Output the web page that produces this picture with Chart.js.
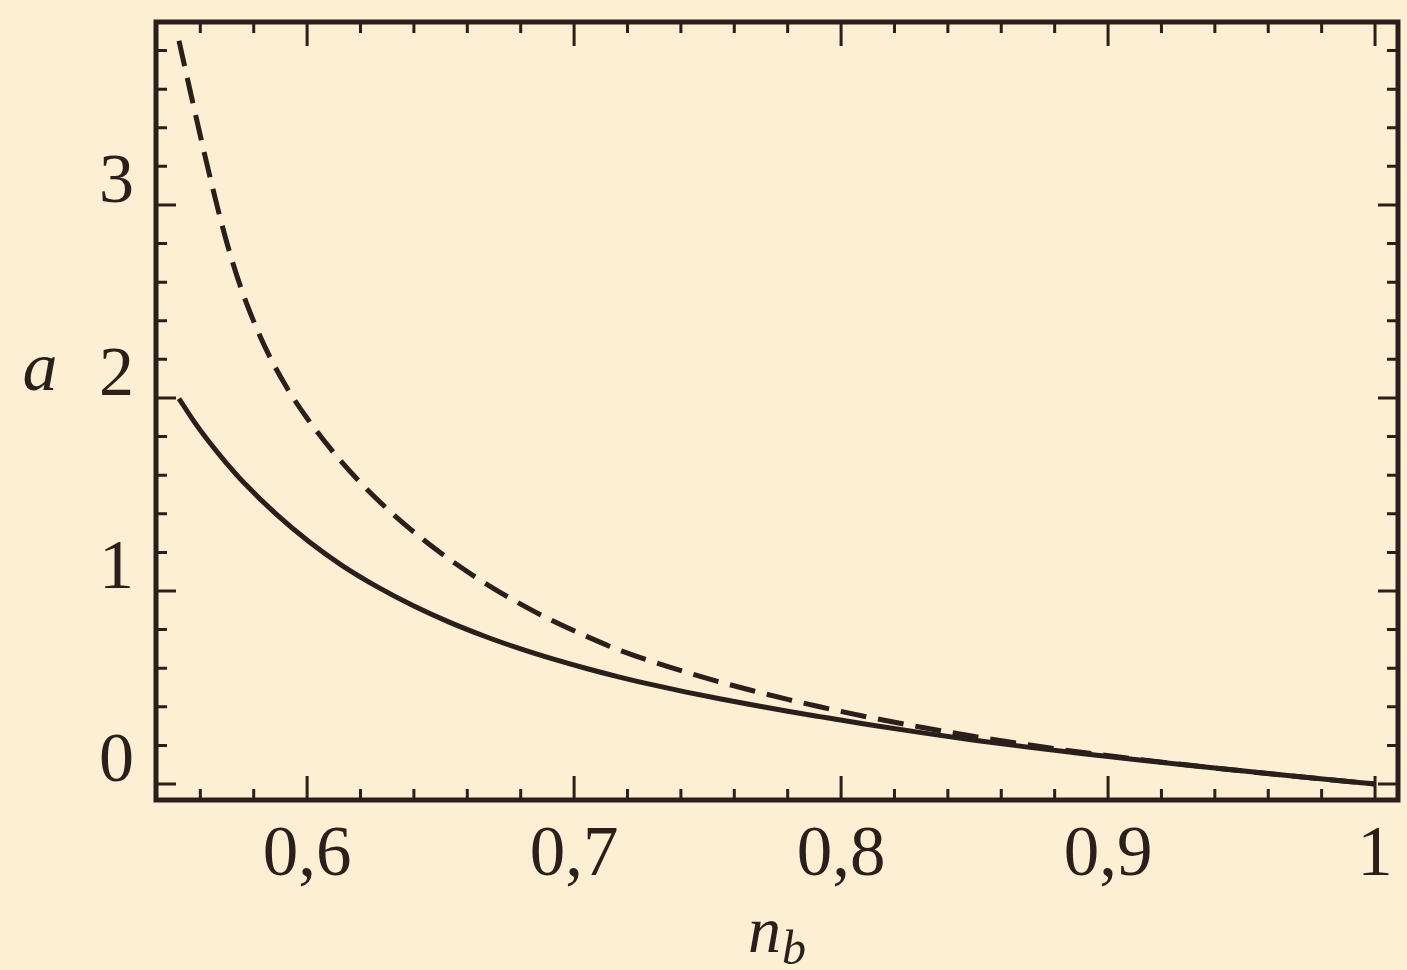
<!DOCTYPE html>
<html>
<head>
<meta charset="utf-8">
<script src="https://cdn.jsdelivr.net/npm/chart.js@4.4.1/dist/chart.umd.min.js"></script>
<style>
  html, body { margin: 0; padding: 0; background: #fcefd3; }
  #wrap { width: 1407px; height: 970px; position: relative; }
</style>
</head>
<body>
<div id="wrap"><canvas id="c"></canvas></div>
<script>
// ---- data ----
const solidN = [0.552, 0.558, 0.564, 0.570, 0.576, 0.588, 0.601, 0.613, 0.626, 0.640, 0.653, 0.667, 0.680, 0.692, 0.705, 0.717, 0.730, 0.742, 0.755, 0.767, 0.780, 0.792, 0.810, 0.830, 0.850, 0.870, 0.890, 0.910, 0.930, 0.950, 0.970, 1.000];
const solidA = [1.997, 1.871, 1.760, 1.659, 1.566, 1.403, 1.252, 1.133, 1.024, 0.922, 0.840, 0.763, 0.700, 0.648, 0.597, 0.554, 0.512, 0.476, 0.440, 0.409, 0.377, 0.349, 0.308, 0.266, 0.227, 0.191, 0.158, 0.127, 0.097, 0.068, 0.040, 0.0];

const dashedN = [0.552, 0.556, 0.560, 0.564, 0.568, 0.572, 0.577, 0.584, 0.592, 0.600, 0.613, 0.626, 0.639, 0.652, 0.665, 0.678, 0.691, 0.704, 0.717, 0.730, 0.742, 0.755, 0.767, 0.780, 0.792, 0.810, 0.830, 0.850, 0.870, 0.890, 0.910, 0.930, 0.950, 0.970, 1.000];
const dashedA = [3.851, 3.603, 3.359, 3.123, 2.903, 2.707, 2.502, 2.271, 2.063, 1.895, 1.667, 1.478, 1.317, 1.177, 1.055, 0.947, 0.852, 0.769, 0.693, 0.631, 0.579, 0.527, 0.483, 0.438, 0.400, 0.347, 0.294, 0.246, 0.203, 0.164, 0.130, 0.098, 0.068, 0.040, 0.0];

const xTickValues = [0.6, 0.7, 0.8, 0.9, 1.0];
const xTickLabels = ['0,6', '0,7', '0,8', '0,9', '1'];
const yTickValues = [0, 1, 2, 3];
const yTickLabels = ['0', '1', '2', '3'];
const xMinorStep = 0.02;
const yMinorStep = 0.2;
const xTitle = 'n';
const xTitleSub = 'b';
const yTitle = 'a';

// ---- style ----
const INK = '#2a1f1a';
const BG = '#fcefd3';
const SERIF = "'Liberation Serif', 'DejaVu Serif', serif";

const toXY = (xs, ys) => xs.map((x, i) => ({ x: x, y: ys[i] }));

const framePlugin = {
  id: 'frame',
  beforeDraw(chart) {
    const ctx = chart.ctx;
    ctx.save();
    ctx.fillStyle = BG;
    ctx.fillRect(0, 0, chart.width, chart.height);
    ctx.restore();
  },
  afterDraw(chart) {
    const ctx = chart.ctx;
    const a = chart.chartArea;
    const xs = chart.scales.x, ys = chart.scales.y;
    ctx.save();
    ctx.strokeStyle = INK;
    ctx.lineCap = 'butt';
    const majorLen = 24, minorLen = 11;
    ctx.lineWidth = 3;
    const drawX = (v, len) => {
      const p = xs.getPixelForValue(v);
      if (p < a.left + 2 || p > a.right - 2) return;
      ctx.beginPath();
      ctx.moveTo(p, a.bottom); ctx.lineTo(p, a.bottom - len);
      ctx.moveTo(p, a.top); ctx.lineTo(p, a.top + len);
      ctx.stroke();
    };
    const drawY = (v, len) => {
      const p = ys.getPixelForValue(v);
      if (p < a.top + 2 || p > a.bottom - 2) return;
      ctx.beginPath();
      ctx.moveTo(a.left, p); ctx.lineTo(a.left + len, p);
      ctx.moveTo(a.right, p); ctx.lineTo(a.right - len, p);
      ctx.stroke();
    };
    const eps = 1e-6;
    for (let k = Math.ceil(xs.min / xMinorStep - eps); k * xMinorStep <= xs.max + eps; k++) {
      const v = +(k * xMinorStep).toFixed(4);
      const isMajor = xTickValues.some(t => Math.abs(t - v) < 1e-6);
      drawX(v, isMajor ? majorLen : minorLen);
    }
    for (let k = Math.ceil(ys.min / yMinorStep - eps); k * yMinorStep <= ys.max + eps; k++) {
      const v = +(k * yMinorStep).toFixed(4);
      const isMajor = yTickValues.some(t => Math.abs(t - v) < 1e-6);
      drawY(v, isMajor ? majorLen - 4 : minorLen);
    }
    ctx.lineWidth = 5;
    ctx.strokeRect(a.left, a.top, a.right - a.left, a.bottom - a.top);
    ctx.fillStyle = INK;
    ctx.textBaseline = 'alphabetic';
    ctx.textAlign = 'center';
    ctx.font = 'italic 70px ' + SERIF;
    ctx.fillText(yTitle, 40, 390);
    ctx.textAlign = 'left';
    ctx.font = 'italic 66px ' + SERIF;
    const nx = 748;
    ctx.fillText(xTitle, nx, 952);
    const w = ctx.measureText(xTitle).width;
    ctx.font = 'italic 48px ' + SERIF;
    ctx.fillText(xTitleSub, nx + w + 1, 964);
    ctx.restore();
  }
};

new Chart(document.getElementById('c'), {
  type: 'line',
  data: {
    datasets: [
      {
        label: 'solid',
        data: toXY(solidN, solidA),
        borderColor: INK,
        borderWidth: 5,
        pointRadius: 0,
        cubicInterpolationMode: 'monotone',
        fill: false
      },
      {
        label: 'dashed',
        data: toXY(dashedN, dashedA),
        borderColor: INK,
        borderWidth: 5,
        borderDash: [26, 12],
        pointRadius: 0,
        cubicInterpolationMode: 'monotone',
        fill: false
      }
    ]
  },
  options: {
    responsive: true,
    maintainAspectRatio: false,
    animation: false,
    devicePixelRatio: 1,
    layout: { padding: { top: 22, right: 9, bottom: 0, left: 0 } },
    plugins: { legend: { display: false }, tooltip: { enabled: false }, title: { display: false } },
    scales: {
      x: {
        type: 'linear',
        min: 0.5434,
        max: 1.0086,
        afterFit: s => { s.height = 170; s.paddingLeft = 0; s.paddingRight = 0; },
        afterBuildTicks: s => { s.ticks = xTickValues.map(v => ({ value: v })); },
        grid: { display: false, drawTicks: false },
        border: { display: false },
        ticks: {
          includeBounds: false,
          autoSkip: false,
          maxRotation: 0,
          padding: 14,
          color: INK,
          font: { family: SERIF, size: 71 },
          callback: (v, i) => xTickLabels[i]
        }
      },
      y: {
        type: 'linear',
        min: -0.083,
        max: 3.948,
        afterFit: s => { s.width = 156; s.paddingTop = 0; s.paddingBottom = 0; },
        afterBuildTicks: s => { s.ticks = yTickValues.map(v => ({ value: v })); },
        grid: { display: false, drawTicks: false },
        border: { display: false },
        ticks: {
          includeBounds: false,
          autoSkip: false,
          padding: 22,
          labelOffset: -21,
          color: INK,
          font: { family: SERIF, size: 70 },
          callback: (v, i) => yTickLabels[i]
        }
      }
    }
  },
  plugins: [framePlugin]
});
</script>
</body>
</html>
